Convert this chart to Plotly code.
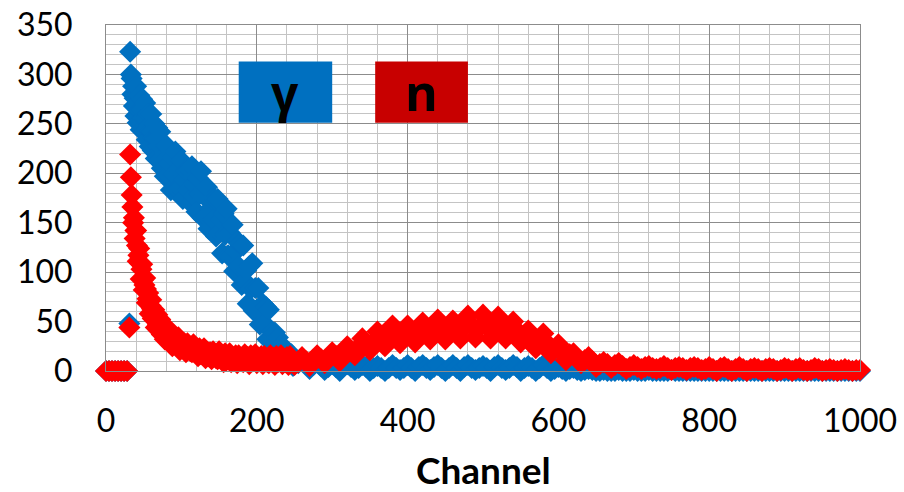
import plotly.graph_objects as go

# ---------------- data ----------------
# channels: zero region, first non-zero channel, steep rise (1-ch step), shoulder (2-ch step), rest (5-ch step)
channels = ([0, 4, 8, 12, 16, 20, 24, 28, 31] + list(range(32, 80))
            + list(range(80, 250, 2)) + list(range(250, 1001, 5)))

gamma_counts = (
    [0, 0, 0, 0, 0, 0, 0, 0, 48]
    # ch 32-79
    + [323, 300, 296, 280, 288, 268, 276, 258,
       288, 270, 251, 264, 279, 263, 244, 264, 275, 256,
       242, 255, 271, 255, 234, 245, 260, 248, 227, 243,
       260, 242, 223, 236, 250, 235, 215, 235, 246, 227,
       213, 226, 242, 226, 205, 216, 231, 218, 197, 214]
    # ch 80-248, step 2
    + [228, 198, 210, 183, 216, 199, 222, 184, 204, 185,
       213, 174, 193, 203, 183, 204, 170, 207, 177, 188,
       161, 195, 179, 202, 155, 177, 157, 186, 144, 164,
       174, 153, 174, 136, 174, 140, 153, 119, 159, 138,
       164, 117, 140, 117, 148, 101, 121, 131, 106, 129,
       87, 127, 91, 102, 68, 106, 83, 109, 61, 84,
       62, 84, 47, 61, 68, 48, 65, 32, 62, 33,
       40, 23, 39, 28, 34, 16, 26, 14, 24, 11,
       15, 18, 11, 17, 5]
    # ch 250-1000, step 5
    + [7, 8, 11, 7, 2, 6,
       9, 5, 1, 4, 7, 4, 0, 5, 7, 4,
       1, 3, 6, 4, 0, 3, 5, 3, 0, 3,
       6, 3, 1, 3, 6, 3, 0, 4, 6, 3,
       1, 4, 6, 3, 0, 3, 6, 3, 0, 4,
       6, 3, 1, 3, 5, 3, 0, 4, 6, 3,
       1, 3, 6, 4, 0, 3, 5, 3, 0, 3,
       6, 3, 0, 2, 4, 2, 0, 2, 3, 1,
       0, 1, 2, 1, 0, 0, 1, 0, 0, 0,
       1, 0, 0, 0, 1, 0, 0, 0, 1, 0,
       0, 0, 0, 0, 1, 0, 0, 0, 0, 0,
       0, 0, 0, 0, 0, 0, 0, 0, 0, 0,
       0, 0, 0, 0, 0, 0, 0, 0, 0, 0,
       0, 0, 0, 0, 0, 0, 0, 0, 0, 0,
       0, 0, 0, 0, 0, 0, 0, 0, 0, 0,
       0, 0, 0, 0, 0]
)

neutron_counts = (
    [0, 0, 0, 0, 0, 0, 0, 0, 44]
    # ch 32-79
    + [219, 196, 178, 166, 150, 155, 134, 142,
       142, 127, 111, 117, 124, 109, 93, 103, 108, 92,
       82, 87, 94, 83, 69, 73, 79, 71, 58, 66,
       72, 63, 53, 57, 62, 54, 44, 53, 57, 47,
       41, 46, 52, 45, 37, 41, 46, 41, 32, 38]
    # ch 80-248, step 2
    + [33, 43, 33, 36, 25, 36, 27, 30, 34, 21,
       28, 24, 28, 19, 28, 23, 20, 19, 27, 20,
       23, 15, 23, 17, 19, 23, 13, 19, 15, 19,
       12, 20, 15, 13, 12, 20, 13, 16, 9, 18,
       11, 14, 18, 9, 14, 11, 16, 8, 16, 12,
       10, 9, 17, 11, 14, 7, 16, 10, 12, 17,
       8, 13, 10, 15, 7, 15, 11, 9, 8, 16,
       10, 13, 6, 15, 9, 12, 16, 7, 12, 9,
       14, 6, 15, 10, 8]
    # ch 250-1000, step 5
    + [6, 9, 14, 10, 5, 11,
       16, 12, 8, 12, 19, 15, 10, 19, 25, 20,
       16, 24, 33, 29, 21, 29, 40, 35, 25, 36,
       46, 38, 28, 36, 46, 39, 29, 42, 49, 39,
       32, 41, 52, 44, 32, 40, 51, 44, 33, 44,
       56, 46, 34, 44, 57, 45, 33, 47, 55, 42,
       33, 41, 50, 41, 29, 35, 41, 34, 23, 31,
       38, 28, 18, 22, 27, 19, 11, 17, 18, 12,
       8, 11, 14, 10, 4, 7, 9, 7, 3, 6,
       8, 5, 2, 4, 6, 4, 2, 4, 5, 3,
       2, 3, 5, 3, 1, 3, 4, 3, 1, 3,
       4, 3, 1, 2, 4, 2, 0, 3, 4, 2,
       0, 2, 4, 2, 0, 2, 3, 2, 0, 2,
       3, 2, 0, 1, 3, 2, 0, 2, 3, 1,
       0, 1, 3, 2, 0, 1, 2, 1, 0, 1,
       2, 1, 0, 1, 1]
)

assert len(gamma_counts) == len(channels), (len(gamma_counts), len(channels))
assert len(neutron_counts) == len(channels), (len(neutron_counts), len(channels))

x_ticks = [0, 200, 400, 600, 800, 1000]
y_ticks = [0, 50, 100, 150, 200, 250, 300, 350]
labels = ["γ", "n"]

BLUE = "#0070C0"
RED = "#FF0000"
DARKRED = "#C80000"
FONT = "Lato"

fig = go.Figure()
fig.add_trace(go.Scatter(x=channels, y=gamma_counts, mode="markers", name="γ",
                         marker=dict(symbol="diamond", size=17, color=BLUE, line=dict(width=0)),
                         cliponaxis=False))
fig.add_trace(go.Scatter(x=channels, y=neutron_counts, mode="markers", name="n",
                         marker=dict(symbol="diamond", size=17, color=RED, line=dict(width=0)),
                         cliponaxis=False))

# label boxes
fig.add_shape(type="rect", xref="x", yref="y", x0=176, x1=300, y0=251, y1=313,
              fillcolor=BLUE, line=dict(width=0), layer="above")
fig.add_shape(type="rect", xref="x", yref="y", x0=357, x1=480, y0=251, y1=313,
              fillcolor=DARKRED, line=dict(width=0), layer="above")
fig.add_annotation(x=238, y=282, xref="x", yref="y", text="<b>%s</b>" % labels[0], showarrow=False,
                   font=dict(family="Open Sans", size=48, color="black"), yanchor="middle")
fig.add_annotation(x=418, y=282, xref="x", yref="y", text="<b>%s</b>" % labels[1], showarrow=False,
                   font=dict(family="Open Sans", size=50, color="black"), yanchor="middle")

fig.add_annotation(x=0.5, y=-0.285, xref="paper", yref="paper", text="<b>Channel</b>", showarrow=False,
                   font=dict(family=FONT, size=37, color="black"), yanchor="middle")

fig.update_layout(
    width=904, height=492,
    margin=dict(l=106, r=44, t=25, b=121),
    paper_bgcolor="white", plot_bgcolor="white",
    showlegend=False,
    font=dict(family=FONT, size=32, color="black"),
)
fig.update_xaxes(range=[0, 1000], tickvals=x_ticks, showgrid=True, gridcolor="#8c8c8c", gridwidth=1,
                 minor=dict(dtick=40, tick0=0, showgrid=True, gridcolor="#c4c4c4", gridwidth=1),
                 showline=True, linecolor="#8c8c8c", mirror=True, zeroline=False,
                 ticks="", ticklabelstandoff=22, automargin=False)
fig.update_yaxes(range=[0, 350], tickvals=y_ticks, showgrid=True, gridcolor="#8c8c8c", gridwidth=1,
                 minor=dict(dtick=10, tick0=0, showgrid=True, gridcolor="#c4c4c4", gridwidth=1),
                 showline=True, linecolor="#8c8c8c", mirror=True, zeroline=False,
                 ticks="", ticklabelstandoff=26, automargin=False)

fig.write_html("out.html")
